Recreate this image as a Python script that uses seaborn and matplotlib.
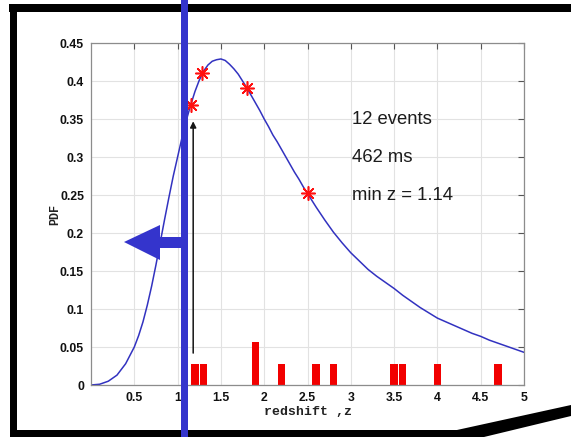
import matplotlib
matplotlib.use("Agg")
import matplotlib.pyplot as plt
import seaborn as sns
from matplotlib.patches import Polygon

# Redshift probability density curve
z_grid = [0.0, 0.1, 0.2, 0.3, 0.4, 0.5, 0.55, 0.6, 0.65, 0.7, 0.75, 0.8, 0.85, 0.9, 0.95,
          1.0, 1.05, 1.1, 1.15, 1.2, 1.25, 1.3, 1.35, 1.4, 1.45, 1.5, 1.55, 1.6, 1.65,
          1.7, 1.75, 1.8, 1.85, 1.9, 1.95, 2.0, 2.05, 2.1, 2.15, 2.2, 2.25, 2.3, 2.35,
          2.4, 2.45, 2.5, 2.6, 2.7, 2.8, 2.9,
          3.0, 3.1, 3.2, 3.3, 3.4, 3.5, 3.6, 3.7, 3.8, 3.9,
          4.0, 4.1, 4.2, 4.3, 4.4, 4.5, 4.6, 4.7, 4.8, 4.9, 5.0]
pdf_vals = [0.000, 0.001, 0.005, 0.013, 0.028, 0.050, 0.065, 0.083, 0.105, 0.130, 0.158,
            0.188, 0.218, 0.247, 0.275,
            0.300, 0.325, 0.348, 0.368, 0.386, 0.401, 0.413, 0.421, 0.426, 0.428, 0.429,
            0.427, 0.422, 0.416,
            0.409, 0.400, 0.391, 0.381, 0.371, 0.361, 0.350, 0.340, 0.329, 0.320, 0.310,
            0.300, 0.290, 0.280,
            0.271, 0.261, 0.252, 0.234, 0.217, 0.201, 0.187,
            0.174, 0.163, 0.152, 0.143, 0.135, 0.127, 0.118, 0.110, 0.102, 0.095,
            0.088, 0.083, 0.078, 0.073, 0.068, 0.064, 0.059, 0.055, 0.051, 0.047, 0.043]

# Events marked on the curve
event_z = [1.15, 1.28, 1.80, 2.50]
event_pdf = [0.368, 0.410, 0.391, 0.252]

# Histogram of event redshifts
bin_centres = [1.2, 1.3, 1.9, 2.2, 2.6, 2.8, 3.5, 3.6, 4.0, 4.7]
bin_heights = [0.028, 0.028, 0.056, 0.028, 0.028, 0.028, 0.028, 0.028, 0.028, 0.028]

info_lines = ["12 events", "462 ms", "min z = 1.14"]
info_y = [0.349, 0.300, 0.250]

xticks = [0.5, 1, 1.5, 2, 2.5, 3, 3.5, 4, 4.5, 5]
xtick_labels = ["0.5", "1", "1.5", "2", "2.5", "3", "3.5", "4", "4.5", "5"]
yticks = [0, 0.05, 0.1, 0.15, 0.2, 0.25, 0.3, 0.35, 0.4, 0.45]
ytick_labels = ["0", "0.05", "0.1", "0.15", "0.2", "0.25", "0.3", "0.35", "0.4", "0.45"]

W, H = 571, 437
sns.set_style("white")
plt.rcParams["font.family"] = ["Liberation Sans", "DejaVu Sans"]

fig = plt.figure(figsize=(W / 100, H / 100), dpi=100)
fig.patch.set_facecolor("white")
ax = fig.add_axes([91 / W, 1 - 385 / H, 433 / W, 342 / H])

sns.barplot(x=bin_centres, y=bin_heights, native_scale=True, width=0.85,
            color="#f20000", saturation=1, errorbar=None, linewidth=0, ax=ax)
sns.lineplot(x=z_grid, y=pdf_vals, color="#3232c0", linewidth=1.1, ax=ax)
sns.scatterplot(x=event_z, y=event_pdf, marker=(8, 2, 0), s=95, color="#ff1010",
                linewidth=1.15, zorder=5, ax=ax)

ax.annotate("", xy=(1.18, 0.347), xytext=(1.18, 0.042),
            arrowprops=dict(arrowstyle="-|>", color="#151515", lw=1.1,
                            mutation_scale=9, shrinkA=0, shrinkB=0))

for txt, yv in zip(info_lines, info_y):
    ax.text(3.01, yv, txt, ha="left", va="center", fontsize=13.3, color="#1c1c1c")

ax.set_xlim(0, 5)
ax.set_ylim(0, 0.45)
ax.set_xticks(xticks)
ax.set_xticklabels(xtick_labels, fontweight="bold", fontsize=8.8)
ax.set_yticks(yticks)
ax.set_yticklabels(ytick_labels, fontweight="bold", fontsize=8.8)
ax.tick_params(direction="in", length=4, width=0.8, top=True, right=True,
               color="#555555", labelcolor="#111111")
ax.tick_params(axis="x", pad=5)
ax.tick_params(axis="y", pad=5)
ax.grid(True, color="#e2e2e2", linewidth=0.8)
ax.set_axisbelow(True)
for sp in ax.spines.values():
    sp.set_visible(True)
    sp.set_color("#8c8c8c")
    sp.set_linewidth(0.9)

ax.set_xlabel("redshift ,z", fontfamily="Liberation Mono", fontweight="bold",
              fontsize=9.5, color="#222222")
ax.xaxis.set_label_coords(0.5, -(412 - 385) / 342)
ax.xaxis.label.set(va="center", ha="center")
ax.set_ylabel("PDF", fontfamily="Liberation Mono", fontweight="bold",
              fontsize=8.5, color="#222222")
ax.yaxis.set_label_coords(-(91 - 55) / 433, 0.5)
ax.yaxis.label.set(va="center", ha="center", rotation_mode="anchor")


def fpx(x, y):
    return (x / W, 1 - y / H)


def fig_poly(points, color, z=10):
    fig.add_artist(Polygon([fpx(x, y) for x, y in points], closed=True,
                           facecolor=color, edgecolor="none",
                           transform=fig.transFigure, zorder=z))


# Slide frame
black = "#000000"
fig_poly([(9, 4), (571, 4), (571, 12), (9, 12)], black)
fig_poly([(10, 4), (17, 4), (17, 437), (10, 437)], black)
fig_poly([(10, 430), (462, 430), (462, 437), (10, 437)], black)
fig_poly([(425, 437), (571, 405), (571, 416), (484, 437)], black)

# Cut-off marker and pointer
blue = "#3434cc"
fig_poly([(181, 0), (188, 0), (188, 437), (181, 437)], blue, z=11)
fig_poly([(124, 242), (160, 225), (160, 237), (182, 237), (182, 248),
          (160, 248), (160, 260)], blue, z=11)

fig.savefig("out.png", dpi=100)
